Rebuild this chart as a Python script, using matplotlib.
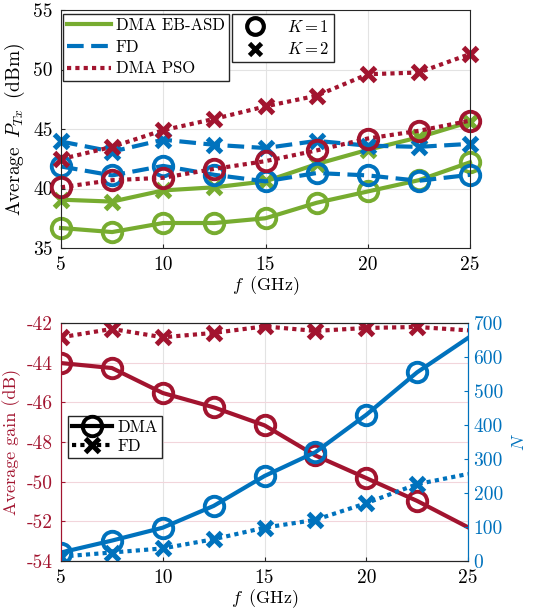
import matplotlib
matplotlib.use('Agg')
import matplotlib.pyplot as plt
from matplotlib.lines import Line2D

plt.rcParams['font.family'] = 'serif'
plt.rcParams['font.serif'] = ['cmr10']
plt.rcParams['mathtext.fontset'] = 'cm'
plt.rcParams['axes.unicode_minus'] = False
plt.rcParams['font.size'] = 13

GREEN = '#77AC30'
BLUE = '#0072BD'
RED = '#A2142F'
DARK = '#262626'

f = [5, 7.5, 10, 12.5, 15, 17.5, 20, 22.5, 25]

# top panel: average transmit power (dBm)
eb_k1 = [36.68, 36.34, 37.1, 37.1, 37.5, 38.8, 39.75, 40.7, 42.2]
eb_k2 = [39.06, 38.9, 39.84, 40.1, 40.6, 42.05, 43.25, 44.3, 45.6]
fd_k1 = [41.85, 41.1, 41.9, 41.15, 40.6, 41.3, 41.1, 40.65, 41.15]
fd_k2 = [43.95, 43.1, 44.1, 43.67, 43.4, 44.0, 43.6, 43.5, 43.75]
pso_k1 = [40.1, 40.7, 40.9, 41.65, 42.3, 43.2, 44.2, 44.85, 45.7]
pso_k2 = [42.47, 43.5, 44.9, 45.85, 46.9, 47.8, 49.6, 49.75, 51.3]

# bottom panel: average gain (dB) and N
gain_dma = [-44.02, -44.27, -45.53, -46.25, -47.16, -48.68, -49.82, -50.97, -52.3]
gain_fd = [-42.72, -42.3, -42.72, -42.5, -42.17, -42.4, -42.25, -42.2, -42.37]
n_dma = [25, 60, 98, 162, 250, 320, 430, 555, 656]
n_fd = [13, 25, 37, 64, 98, 121, 170, 226, 256]

lw = 3.0
ms = 14
mew = 2.8
DASH = (0, (4, 1.8))
DOT = (0, (1, 1))

fig = plt.figure(figsize=(5.33, 6.12), dpi=100)
ax1 = fig.add_axes([61/533, 1 - 248/612, 409/533, 238/612])
ax2 = fig.add_axes([61/533, 1 - 561/612, 407/533, 238/612])


def mstyle(mk):
    if mk == 'o':
        return dict(marker='o', ms=ms, mew=mew, mfc='none')
    return dict(marker='x', ms=ms * 0.75, mew=mew * 1.3)


def line(ax, y, color, ls, mk, **kw):
    ax.plot(f, y, color=color, ls=ls, lw=lw, mec=color, **mstyle(mk), **kw)


line(ax1, eb_k1, GREEN, '-', 'o', clip_on=False)
line(ax1, eb_k2, GREEN, '-', 'x', clip_on=False)
line(ax1, fd_k1, BLUE, DASH, 'o', clip_on=False)
line(ax1, fd_k2, BLUE, DASH, 'x', clip_on=False)
line(ax1, pso_k1, RED, DOT, 'o', clip_on=False)
line(ax1, pso_k2, RED, DOT, 'x', clip_on=False)

ax1.set_xlim(5, 25)
ax1.set_ylim(35, 55)
ax1.set_xticks([5, 10, 15, 20, 25])
ax1.set_yticks([35, 40, 45, 50, 55])
ax1.grid(True, color='#e3e3e3', lw=0.8)
ax1.set_axisbelow(True)
ax1.set_xlabel(r'$f\,$ (GHz)', labelpad=0, fontsize=13)
ax1.set_ylabel(r'Average $\,P_{Tx}\,$ (dBm)', labelpad=4, fontsize=14)
ax1.tick_params(direction='in', length=3, color=DARK, labelsize=14, pad=6)
for s in ax1.spines.values():
    s.set_color(DARK)

h1 = [Line2D([], [], color=GREEN, lw=lw, ls='-'),
      Line2D([], [], color=BLUE, lw=lw, ls=DASH),
      Line2D([], [], color=RED, lw=lw, ls=DOT)]
leg1 = ax1.legend(h1, ['DMA EB-ASD', 'FD', 'DMA PSO'], loc='upper left',
                  bbox_to_anchor=(0.005, 0.985), fancybox=False, edgecolor=DARK,
                  framealpha=1, handlelength=2.6, handletextpad=0.3, fontsize=12,
                  borderaxespad=0.0, borderpad=0.25, labelspacing=0.38)
ax1.add_artist(leg1)
h2 = [Line2D([], [], color='black', ls='none', marker='o', ms=12, mfc='none', mew=3.0),
      Line2D([], [], color='black', ls='none', marker='x', ms=9, mew=3.4)]
ax1.legend(h2, ['$K=1$', '$K=2$'], loc='upper left', bbox_to_anchor=(0.418, 0.983),
           fancybox=False, edgecolor=DARK, framealpha=1, handlelength=2.2, fontsize=12,
           handletextpad=0.8, borderaxespad=0.0, borderpad=0.3, labelspacing=0.38)

# bottom panel
every = list(range(len(f) - 1))
line(ax2, gain_dma, RED, '-', 'o', markevery=every)
line(ax2, gain_fd, RED, DOT, 'x', markevery=every)
ax2.set_xlim(5, 25)
ax2.set_ylim(-54, -42)
ax2.set_xticks([5, 10, 15, 20, 25])
ax2.set_yticks([-54, -52, -50, -48, -46, -44, -42])
ax2.set_xlabel(r'$f\,$ (GHz)', labelpad=0, fontsize=13)
ax2.set_ylabel('Average gain (dB)', color=RED, labelpad=4, fontsize=13)
ax2.tick_params(axis='y', colors=RED, direction='in', length=3, labelsize=14, pad=6)
ax2.tick_params(axis='x', direction='in', length=3, color=DARK, labelsize=14, pad=6)
ax2.grid(True, axis='x', color='#e3e3e3', lw=0.8)
ax2.grid(True, axis='y', color='#f2d5db', lw=0.8)
ax2.set_axisbelow(True)

ax3 = ax2.twinx()
line(ax3, n_dma, BLUE, '-', 'o', markevery=every)
line(ax3, n_fd, BLUE, DOT, 'x', markevery=every)
ax3.set_ylim(0, 700)
ax3.set_yticks(range(0, 701, 100))
ax3.set_ylabel('$N$', color=BLUE, labelpad=6, fontsize=13)
ax3.tick_params(axis='y', colors=BLUE, direction='in', length=3, labelsize=14, pad=4)
for a in (ax2, ax3):
    a.spines['left'].set_color(RED)
    a.spines['right'].set_color(BLUE)
    a.spines['top'].set_color(DARK)
    a.spines['bottom'].set_color(DARK)

h3 = [Line2D([], [], color='black', lw=lw, ls='-', mec='black', **mstyle('o')),
      Line2D([], [], color='black', lw=lw, ls=DOT, mec='black', **mstyle('x'))]
ax3.legend(h3, ['DMA', 'FD'], loc='upper left', bbox_to_anchor=(0.017, 0.61),
           fancybox=False, edgecolor=DARK, framealpha=1, handlelength=2.4, fontsize=12,
           handletextpad=0.3, borderaxespad=0.0, borderpad=0.25, labelspacing=0.2)

fig.savefig('out.png', dpi=100)
